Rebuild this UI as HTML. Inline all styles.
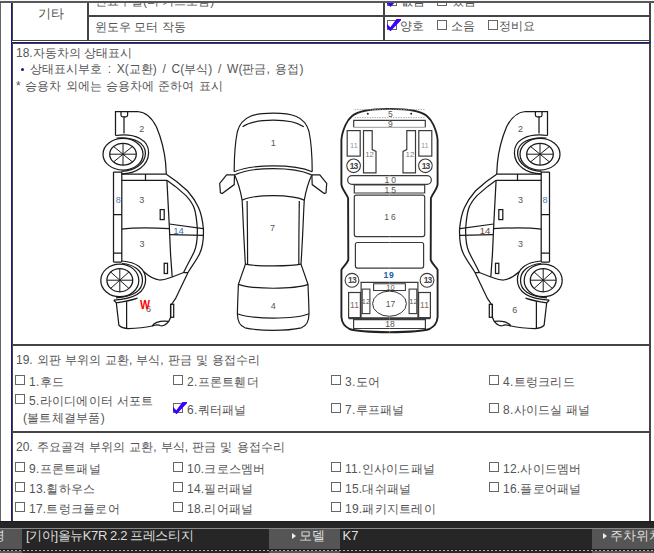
<!DOCTYPE html>
<html><head><meta charset="utf-8">
<style>
*{margin:0;padding:0;box-sizing:border-box}
html,body{width:654px;height:553px;overflow:hidden;background:#fff}
body{position:relative;font-family:"Liberation Sans",sans-serif;font-size:12px;color:#555}
.a{position:absolute}
.h{position:absolute;height:1px;background:#444}
.v{position:absolute;width:1px;background:#444}
.t{position:absolute;white-space:nowrap;line-height:14px}
.cb{position:absolute;width:10px;height:10px;border:1px solid #666;background:#fff}
.nv{background:#1a1a86}
</style></head><body>
<!-- frame -->
<div class="a" style="left:0;top:0;width:654px;height:1px;background:#f6f9fc;z-index:5"></div>
<div class="a" style="left:0;top:1px;width:654px;height:2px;background:#585858;z-index:5"></div>
<div class="v" style="left:0;top:3px;height:518px;background:#646464"></div>
<div class="v nv" style="left:11px;top:3px;height:518px"></div>
<div class="v" style="left:649px;top:3px;height:518px"></div>
<div class="v" style="left:650px;top:3px;height:518px"></div>

<!-- top table -->
<div class="v" style="left:12px;top:3px;height:38px"></div>
<div class="v" style="left:87px;top:3px;height:38px"></div>
<div class="v" style="left:88px;top:3px;height:38px"></div>
<div class="v" style="left:383px;top:3px;height:38px"></div>
<div class="v" style="left:384px;top:3px;height:38px"></div>
<div class="h" style="left:88px;top:15px;width:562px"></div>
<div class="h" style="left:88px;top:16px;width:562px"></div>
<div class="h" style="left:12px;top:40px;width:638px"></div>
<div class="t" style="left:38px;top:7px;font-size:13px">기타</div>
<div class="t" style="left:95px;top:-6px">연료누설(터 커트포함)</div>
<div class="t" style="left:95px;top:20px">윈도우 모터 작동</div>
<div class="cb" style="left:387px;top:-4.5px"></div>
<div class="t" style="left:401px;top:-6px">없음</div>
<div class="cb" style="left:437px;top:-4.5px"></div>
<div class="t" style="left:452px;top:-6px">있음</div>
<div class="cb" style="left:387px;top:20px"></div>
<div class="t" style="left:400px;top:19px">양호</div>
<div class="cb" style="left:437px;top:20px"></div>
<div class="t" style="left:451px;top:19px">소음</div>
<div class="cb" style="left:488px;top:20px"></div>
<div class="t" style="left:499px;top:19px">정비요</div>

<!-- section 18 -->
<div class="h nv" style="left:11px;top:42px;width:640px"></div>
<div class="h" style="left:12px;top:43px;width:638px"></div>
<div class="v" style="left:12px;top:43px;height:478px"></div>
<div class="t" style="left:16px;top:46px">18.자동차의 상태표시</div>
<div class="a" style="left:21px;top:68px;width:3px;height:3px;border-radius:50%;background:#1a1a86"></div>
<div class="t" style="left:30px;top:62px;word-spacing:2.4px">상태표시부호 : X(교환) / C(부식) / W(판금, 용접)</div>
<div class="t" style="left:16px;top:79px;word-spacing:1.1px">* 승용차 외에는 승용차에 준하여 표시</div>

<!-- section 19 -->
<div class="h" style="left:12px;top:344px;width:638px"></div>
<div class="h" style="left:12px;top:345px;width:638px"></div>
<div class="t" style="left:16px;top:352.5px;word-spacing:0.75px">19. 외판 부위의 교환, 부식, 판금 및 용접수리</div>

<div class="cb" style="left:15px;top:375px"></div><div class="t" style="left:29px;top:375px;letter-spacing:0.25px">1.후드</div>
<div class="cb" style="left:173px;top:375px"></div><div class="t" style="left:187px;top:375px;letter-spacing:0.25px">2.프론트휀더</div>
<div class="cb" style="left:331px;top:375px"></div><div class="t" style="left:345px;top:375px;letter-spacing:0.25px">3.도어</div>
<div class="cb" style="left:489px;top:375px"></div><div class="t" style="left:503px;top:375px;letter-spacing:0.25px">4.트렁크리드</div>
<div class="cb" style="left:15px;top:394px"></div><div class="t" style="left:29px;top:394px;letter-spacing:0.25px">5.라이디에이터 서포트</div>
<div class="t" style="left:23px;top:411px;letter-spacing:0.25px">(볼트체결부품)</div>
<div class="cb" style="left:173px;top:403px"></div><div class="t" style="left:187px;top:403px;letter-spacing:0.25px">6.쿼터패널</div>
<div class="cb" style="left:331px;top:403px"></div><div class="t" style="left:345px;top:403px;letter-spacing:0.25px">7.루프패널</div>
<div class="cb" style="left:489px;top:403px"></div><div class="t" style="left:503px;top:403px;letter-spacing:0.25px">8.사이드실 패널</div>

<!-- section 20 -->
<div class="h" style="left:12px;top:431px;width:638px"></div>
<div class="h" style="left:12px;top:432px;width:638px"></div>
<div class="t" style="left:16px;top:439.5px;word-spacing:0.85px">20. 주요골격 부위의 교환, 부식, 판금 및 용접수리</div>
<div class="cb" style="left:15px;top:462px"></div><div class="t" style="left:29px;top:462px;letter-spacing:0.25px">9.프론트패널</div>
<div class="cb" style="left:173px;top:462px"></div><div class="t" style="left:187px;top:462px;letter-spacing:0.25px">10.크로스멤버</div>
<div class="cb" style="left:331px;top:462px"></div><div class="t" style="left:345px;top:462px;letter-spacing:0.25px">11.인사이드패널</div>
<div class="cb" style="left:489px;top:462px"></div><div class="t" style="left:503px;top:462px;letter-spacing:0.25px">12.사이드멤버</div>
<div class="cb" style="left:15px;top:482px"></div><div class="t" style="left:29px;top:482px;letter-spacing:0.25px">13.휠하우스</div>
<div class="cb" style="left:173px;top:482px"></div><div class="t" style="left:187px;top:482px;letter-spacing:0.25px">14.필러패널</div>
<div class="cb" style="left:331px;top:482px"></div><div class="t" style="left:345px;top:482px;letter-spacing:0.25px">15.대쉬패널</div>
<div class="cb" style="left:489px;top:482px"></div><div class="t" style="left:503px;top:482px;letter-spacing:0.25px">16.플로어패널</div>
<div class="cb" style="left:15px;top:502px"></div><div class="t" style="left:29px;top:502px;letter-spacing:0.25px">17.트렁크플로어</div>
<div class="cb" style="left:173px;top:502px"></div><div class="t" style="left:187px;top:502px;letter-spacing:0.25px">18.리어패널</div>
<div class="cb" style="left:331px;top:502px"></div><div class="t" style="left:345px;top:502px;letter-spacing:0.25px">19.패키지트레이</div>

<!-- check marks -->
<svg class="a" style="left:0;top:0" width="654" height="553">
<g fill="#3a00ff">
<path d="M387 -0.3 L390.3 3 L396.5 -5.3 L401 -5.3 L401 -4 L390.5 6.9 L387 3.5Z"/>
<path d="M387 24 L390.3 27.3 L396.5 19 L401 19 L401 20.3 L390.5 31.2 L387 27.8Z"/>
<path d="M173 407 L176.3 410.3 L182.5 402 L187 402 L187 403.3 L176.5 414.2 L173 410.8Z"/>
</g>
</svg>

<!-- bottom bar -->
<div class="a" style="left:0;top:521px;width:654px;height:32px;background:#262626"></div>
<div class="a" style="left:0;top:521px;width:654px;height:1px;background:#1c1c1c"></div>
<div class="a" style="left:0;top:528px;width:654px;height:1px;background:#8a8a8a"></div>
<div class="a" style="left:0;top:529px;width:22px;height:24px;background:#555"></div>
<div class="a" style="left:269px;top:529px;width:71px;height:24px;background:#555"></div>
<div class="a" style="left:592px;top:529px;width:62px;height:24px;background:#555"></div>
<div class="a" style="left:0;top:549px;width:654px;height:2px;background:#1e1e1e"></div>
<div class="a" style="left:0;top:550px;width:654px;height:1px;background:linear-gradient(90deg,#b0b0b0 0 2px,transparent 2px 4px);background-size:4px 1px;background-position:3px 0"></div>
<div class="t" style="left:-8.5px;top:529px;color:#ddd;font-size:13px">령</div>
<div class="t" style="left:26px;top:529px;color:#ddd;font-size:13px;letter-spacing:-0.4px">[기아]올뉴K7R 2.2 프레스티지</div>
<div class="a" style="left:292px;top:533px;width:0;height:0;border-left:4px solid #eee;border-top:3px solid transparent;border-bottom:3px solid transparent"></div>
<div class="t" style="left:299px;top:529px;color:#ddd;font-size:13px">모델</div>
<div class="t" style="left:342.5px;top:529px;color:#ddd;font-size:13px">K7</div>
<div class="a" style="left:603px;top:533px;width:0;height:0;border-left:4px solid #eee;border-top:3px solid transparent;border-bottom:3px solid transparent"></div>
<div class="t" style="left:610px;top:529px;color:#ddd;font-size:13px">주차위치</div>

<!-- CAR -->
<svg class="a" style="left:0;top:0" width="654" height="553" viewBox="0 0 654 553">
<defs>
<g id="side" fill="none" stroke="#1a1a1a" stroke-width="1.25">
 <!-- front bumper / hood -->
 <path d="M115.5,135.5 V111.5 H137.5 C145,112 152,118 156.5,127 C161.5,139 164.5,152 165.6,163 L166.3,174.2"/>
 <path d="M121,112 V115 Q121,116.8 122.8,116.8 H125.8 Q127.6,116.8 127.6,115 V112"/>
 <path d="M124,116.6 V133.5"/>
 <!-- front fender arcs -->
 <path d="M115.5,135.5 C136,133 149,140 148.6,153 C148.2,166 136,173.6 121.6,173.8"/>
 <path d="M116.5,138 C134,136.5 145.6,143 145.4,153.5 C145.2,164 134,171 121.6,171.3"/>
 <!-- front tire -->
 <ellipse cx="123" cy="154.2" rx="20" ry="15.8"/>
 <ellipse cx="123" cy="154.2" rx="13.3" ry="10.9"/>
 <path d="M109.7,154.2 H136.3 M123,143.3 V165.1 M113.6,146.5 L132.4,161.9 M113.6,161.9 L132.4,146.5" stroke-width="1"/>
 <!-- sill -->
 <path d="M113.5,172 V262 M121.8,172 V262 M113.5,172 H121.8 M113.5,214.7 H121.8 M113.5,253 H121.8 M113.5,262 H121.8"/>
 <!-- door frame top -->
 <path d="M121.8,174.2 H166.3 M121.8,180.3 H166.9 M145.5,174.2 V180.3"/>
 <!-- roof outer -->
 <path d="M166.3,174.2 L176.9,181.8 L187.6,191 C192,196 196,202 198.5,207.5 C201,213 202.6,220 203.4,229 C203.8,240 202.5,248 199.5,254 C196.5,260 192,266 188,272.5 L175.6,298.4 L171.5,304.5"/>
 <!-- roof inner -->
 <path d="M166.9,180.3 L175.3,186.4 L186,195.6 C190,200 193,204 194.5,209 C196,214 196.7,220 197.3,228 C197.6,238 196.5,246 194.5,251 C192,257 188,263 183.6,272.5"/>
 <!-- B pillar -->
 <path d="M166.9,180.3 L169.2,224 L170.6,255 L172.2,277"/>
 <!-- 14 band -->
 <path d="M169.3,224 L203,228.6 M170,234.6 L203,235.4"/>
 <!-- door mid -->
 <path d="M121.8,229.2 C132,227.8 150,227.6 169.5,228.6"/>
 <!-- handles -->
 <rect x="160.2" y="209.6" width="4" height="10"/>
 <rect x="164.2" y="263.3" width="3.3" height="10.2"/>
 <!-- lower door line -->
 <path d="M143.8,271.8 C148,275.5 153.5,279.5 159.5,280 C165,280 169,278 172.2,277 L183.6,272.5 L188,272.5"/>
 <!-- rear tire -->
 <ellipse cx="119.8" cy="280.4" rx="19" ry="16.3"/>
 <ellipse cx="119.8" cy="280.2" rx="12.9" ry="11.6"/>
 <path d="M106.9,280.2 H132.7 M119.8,268.6 V291.8 M110.7,272 L128.9,288.4 M110.7,288.4 L128.9,272" stroke-width="1"/>
 <!-- rear fender arcs -->
 <path d="M122,261 C136,262 145.8,268.5 145.6,280 C145.4,292 135.5,298.8 113.8,300.2"/>
 <path d="M122,263.5 C133.5,264.5 142.6,270 142.5,280.5 C142.4,291 133,296.5 116,297.8"/>
 <!-- rear quarter / bumper -->
 <path d="M113.8,300.2 L116.3,302.8 L118.9,325.3 C121,327.5 124,328.5 128.4,328.6 C137,328.4 145,327.6 152,326 C156,324.8 158,324.2 160,325.5 C163,326.5 166,324.8 168.8,321.4 L170.6,317.3 L170.6,304.5 L171.5,304.5"/>
 <path d="M116.3,302.8 C124,301.8 131,300.5 137.5,298.2"/>
 <path d="M126.6,301.3 V328.5"/>
 <rect x="170.6" y="304.3" width="3.1" height="13"/>
 <path d="M152,326 C155,322 160,320.5 168.8,321.4"/>
</g>
<g id="framehalf" fill="none" stroke="#3a3a3a" stroke-width="1.2">
 <path stroke-width="1.9" stroke="#222" d="M389.5,108.9 C380,108.9 372,109.2 366,110.5 C360,111.8 355,113.5 352.1,115.9 C349,118.5 347,121.5 345.5,125 C343.5,129.5 341.8,134 341.4,140 L341.4,184.3 C342,189 346,193 348.1,198 L348.3,259.9 C347,264 342.5,267 341.4,270 L341.4,317 C341.8,322.5 344.5,326.5 349.5,329 C356,331.2 370,332 389.5,332.3"/>
 <path d="M354.5,109.6 H389.5 M354.5,117.6 H389.5" stroke="#999" stroke-width="0.8" stroke-dasharray="1.5 1"/>
 <path d="M389.5,120.3 H353.7 V127.3"/>
 <path d="M353.7,127.3 H389.5" stroke="#999" stroke-width="1"/>
 <rect x="347.2" y="130.6" width="13" height="25.5"/>
 <path d="M363.5,130.6 H372.2 V149.6 L376,151.4 V172.9 H363.5 Z"/>
 <circle cx="353.6" cy="165.8" r="6.8" stroke-width="1.1"/>
 <path d="M389.5,175.6 H352 A4.35,4.35 0 0 0 352,184.3 H389.5"/>
 <path d="M389.5,184.8 H354.3 V193 H389.5"/>
 <path d="M389.5,195.1 H356.3 Q354.3,195.1 354.3,197.1 V234.6 Q354.3,236.6 356.3,236.6 H389.5"/>
 <path d="M389.5,242.5 H357.4 Q355.4,242.5 355.4,244.5 V266.1 Q355.4,268.1 357.4,268.1 H389.5"/>
 <circle cx="352" cy="280.3" r="6.9" stroke-width="1.1"/>
 <path d="M360.4,282.4 H389.5 M361.1,282.4 V317.7"/>
 <path d="M389.5,283.7 H373.6 V290.5 H389.5" stroke-width="1.1"/>
 <rect x="362.2" y="289.1" width="7.7" height="24.5" stroke-width="1.1"/>
 <rect x="348.6" y="292.5" width="11.8" height="25.2"/>
 <path d="M348.6,318.3 H389.5" stroke-width="2"/>
 <path d="M389.5,319.7 H353.6 V328.5 H389.5" stroke-width="1.2"/>
</g>

</defs>
<g id="topview" fill="none" stroke="#1a1a1a" stroke-width="1.2">
 <path d="M234.2,171.8 C234.2,160 234.6,145 237.4,131.5 C239.5,124 244,119 250,116.5 C256,114 264,113.2 273.2,113.2 C282.4,113.2 290.4,114 296.4,116.5 C302.4,119 306.9,124 309,131.5 C311.8,145 312.2,160 312.2,171.8"/>
 <path d="M242.6,126.8 C255,118 291.4,118 303.8,126.8"/>
 <path d="M234.2,171.8 C252,164 294.4,164 312.2,171.8"/>
 <path d="M235.3,174.6 C253,166.6 293.4,166.6 311.1,174.6"/>
 <path d="M234.5,174.8 H226.6 L219.7,183.5 L220.4,192.9 L222.2,193.6 L234.2,184.6 Z"/>
 <path d="M311.9,174.8 H319.8 L326.7,183.5 L326,192.9 L324.2,193.6 L312.2,184.6 Z"/>
 <path d="M234.5,174.8 C237,180 240,188 242.1,200.1 C243,213 243.2,230 245.4,264.2 L238.4,284.4 C238,295 237.5,305 237.4,313.7 C237.5,322 240,326 245,327.8 C255,330 265,330.3 273.2,330.3 C281.4,330.3 291.4,330 301.4,327.8 C306.4,326 308.9,322 309,313.7 C308.9,305 308.4,295 308,284.4 L301,264.2 C303.2,230 303.4,213 304.3,200.1 C306.4,188 309.4,180 311.9,174.8"/>
 <path d="M242.1,200.1 C255,194 291.4,194 304.3,200.1"/>
 <path d="M247.1,201 C247.4,220 247.6,245 247.6,264.2 M299.3,201 C299,220 298.8,245 298.8,264.2"/>
 <path d="M245.4,264.2 C255,266.5 291.4,266.5 301,264.2"/>
 <path d="M238.4,284.4 C252,289.5 294.4,289.5 308,284.4"/>
 <path d="M237.4,313.7 C252,319.5 294.4,319.5 309,313.7"/>
</g>

<use href="#side"/>
<use href="#side" transform="translate(663,0) scale(-1,1)"/>
<use href="#framehalf"/>
<use href="#framehalf" transform="translate(779,0) scale(-1,1)"/>
<ellipse cx="389.5" cy="303.7" rx="16.9" ry="12.6" fill="none" stroke="#333" stroke-width="1"/>
<circle cx="367.8" cy="113.8" r="1" fill="#222"/><circle cx="411.2" cy="113.8" r="1" fill="#222"/>
<g font-family="Liberation Sans, sans-serif" font-size="9" fill="#555" text-anchor="middle">
 <text x="141.7" y="131.5">2</text>
 <text x="141.7" y="202.7">3</text>
 <text x="142" y="247">3</text>
 <text x="148.5" y="311.5">6</text>
 <text x="118.2" y="202.5" fill="#4a78b8">8</text>
 <text x="178.5" y="233.5" fill="#3d6fb0" font-size="9.5">14</text>
 <text x="520.5" y="131.5">2</text>
 <text x="520.5" y="202.7">3</text>
 <text x="520.4" y="247">3</text>
 <text x="514.8" y="312.5">6</text>
 <text x="545" y="202.5" fill="#4a78b8">8</text>
 <text x="485" y="233.5" fill="#5a4a40" font-size="9.5">14</text>
 <text x="273.2" y="146.3">1</text>
 <text x="272.5" y="231">7</text>
 <text x="273.2" y="309.4">4</text>
 <g font-size="8.5">
 <text x="390.3" y="117">5</text>
 <text x="390.3" y="127.3">9</text>
 <text x="354" y="147.6" fill="#999" font-size="7.5">11</text>
 <text x="424.8" y="147.6" fill="#999" font-size="7.5">11</text>
 <text x="369.6" y="157.3" fill="#777" font-size="8">12</text>
 <text x="410" y="157.3" fill="#8a7a70" font-size="8">12</text>
 <text x="353.6" y="168.8" font-weight="bold" fill="#444" letter-spacing="-0.8">13</text>
 <text x="425.6" y="168.8" font-weight="bold" fill="#444" letter-spacing="-0.8">13</text>
 <text x="391.3" y="183" letter-spacing="2">10</text>
 <text x="391.3" y="193" letter-spacing="2">15</text>
 <text x="391" y="219.8" letter-spacing="2">16</text>
 <text x="352" y="283.3" font-weight="bold" fill="#444" letter-spacing="-0.8">13</text>
 <text x="427.6" y="283.3" font-weight="bold" fill="#444" letter-spacing="-0.8">13</text>
 <text x="390.5" y="290.2" font-size="7.5">10</text>
 <text x="366" y="304" font-size="7.5">12</text>
 <text x="413.5" y="304" font-size="7.5">12</text>
 <text x="354.5" y="308" fill="#8a6a50">11</text>
 <text x="424.5" y="308" fill="#8a6a50">11</text>
 <text x="390.5" y="307">17</text>
 <text x="390" y="327.2">18</text>
 </g>
 <text x="389" y="278.3" font-size="8.6" font-weight="bold" fill="#2060a8" letter-spacing="0.6">19</text>
 <text x="140" y="308.5" font-size="12.5" font-weight="bold" fill="#ff0000" text-anchor="start" textLength="10" lengthAdjust="spacingAndGlyphs">W</text>
</g>

</svg>

</body></html>
